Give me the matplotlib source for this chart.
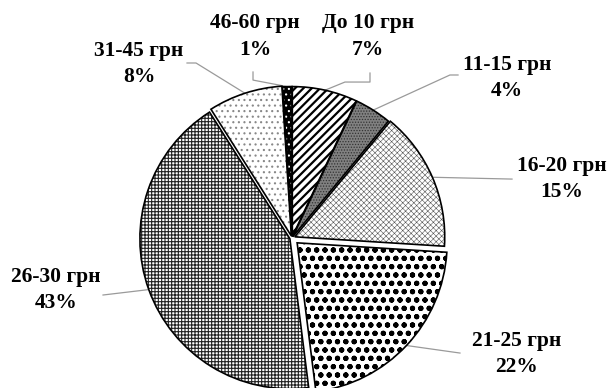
import matplotlib.pyplot as plt
import numpy as np

# Price groups and their shares, %
labels = ['До 10 грн', '11-15 грн', '16-20 грн', '21-25 грн', '26-30 грн', '31-45 грн', '46-60 грн']
shares = [7, 4, 15, 22, 43, 8, 1]
explode = [0.01, 0.01, 0.02, 0.047, 0.015, 0.015, 0.01]

# fill colour, hatch colour, hatch pattern and hatch line width for each slice
faces = ['white', '#808080', 'white', 'white', 'white', 'white', 'black']
hatch_colors = ['black', '#333333', '#555555', 'black', '#222222', '#888888', 'white']
hatches = ['////', '......', 'xxxxxx', 'oo..', '+++++', '...', '...']
hatch_widths = [1.6, 0.6, 0.4, 1.4, 0.8, 0.8, 0.8]

# label centres and leader line bends (pie radius = 1)
label_pos = [(0.507, 1.343), (1.433, 1.067), (1.8, 0.393), (1.5, -0.773),
             (-1.573, -0.347), (-1.02, 1.16), (-0.247, 1.343)]
leader_bends = [
    [(0.52, 1.10), (0.52, 1.04), (0.353, 1.04)],
    [(1.107, 1.087), (1.053, 1.087)],
    [(1.467, 0.393)],
    [(1.12, -0.767)],
    [(-1.26, -0.38)],
    [(-0.70, 1.167), (-0.64, 1.167)],
    [(-0.26, 1.107), (-0.26, 1.053)],
]

fig = plt.figure(figsize=(6.08, 3.88), dpi=100)
ax = fig.add_axes([0, 0, 1, 1])

wedges, _ = ax.pie(shares, explode=explode, startangle=90, counterclock=False,
                   radius=1, wedgeprops=dict(linewidth=0))
for w, fc, hc, h, hw in zip(wedges, faces, hatch_colors, hatches, hatch_widths):
    w.set_facecolor(fc)
    w.set_edgecolor(hc)
    w.set_hatch(h)
    if hasattr(w, 'set_hatch_linewidth'):
        w.set_hatch_linewidth(hw)

# black outlines on top of the hatched fills
outlines, _ = ax.pie(shares, explode=explode, startangle=90, counterclock=False,
                     radius=1, wedgeprops=dict(facecolor='none', edgecolor='black',
                                               linewidth=1.2))

for w, lab, s, pos, bends in zip(wedges, labels, shares, label_pos, leader_bends):
    mid = np.deg2rad((w.theta1 + w.theta2) / 2)
    cx, cy = w.center
    anchor = (cx + w.r * np.cos(mid), cy + w.r * np.sin(mid))
    pts = bends + [anchor]
    ax.plot([p[0] for p in pts], [p[1] for p in pts], color='#9a9a9a', lw=0.9,
            zorder=0.5)
    ax.text(pos[0], pos[1], f'{lab}\n{s}%', ha='center', va='center',
            fontsize=15.5, fontweight='bold', family='Liberation Serif',
            linespacing=1.45)

ax.set_xlim(-1.947, 2.107)
ax.set_ylim(-1.0, 1.587)
ax.axis('off')

fig.savefig('out.png', dpi=100)
